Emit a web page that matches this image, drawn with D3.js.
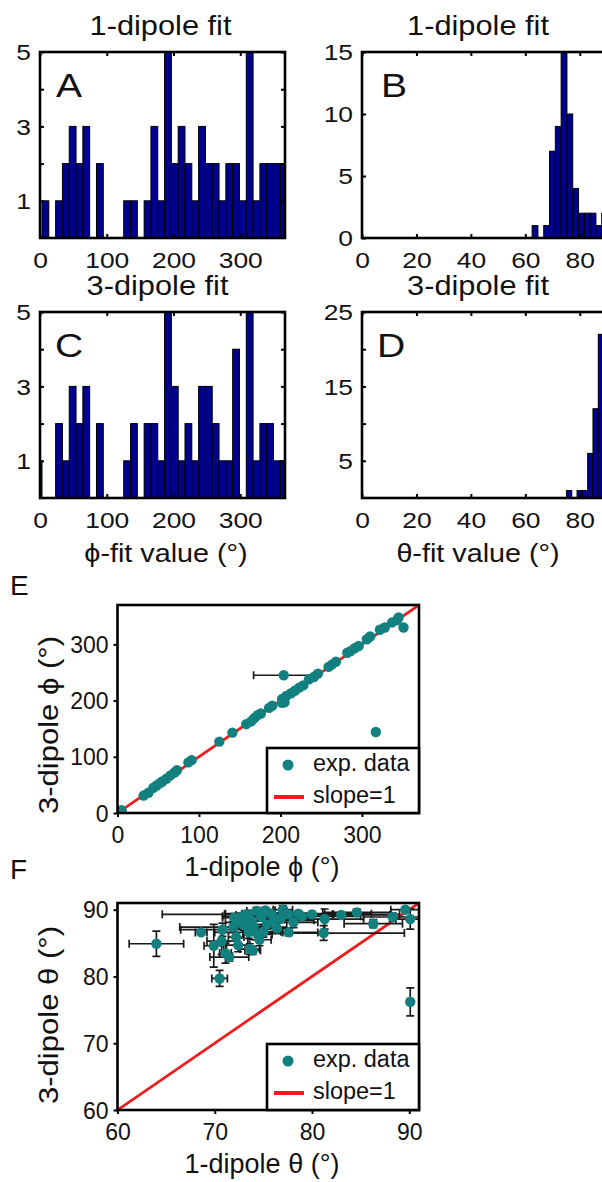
<!DOCTYPE html>
<html><head><meta charset="utf-8">
<script src="https://cdn.jsdelivr.net/npm/d3@7"></script>
<style>body{margin:0;background:#fff;overflow:hidden}</style>
</head><body>
<svg id="c" width="602" height="1182"></svg>
<script>
// ---------------- DATA ----------------
// Histogram A: 1-dipole phi fit (bin start, bin width in degrees, counts)
const histA_binStart = 3, histA_binWidth = 10.2;
const histA_counts = [1,0,1,2,3,2,3,0,2,0,0,0,1,1,0,1,3,1,5,2,3,2,1,3,2,2,1,2,2,1,5,1,2,2,2,2];
// Histogram C: 3-dipole phi fit
const histC_binStart = -7.2, histC_binWidth = 10.2;
const histC_counts = [1,0,0,2,1,3,2,3,0,2,0,0,0,1,2,0,2,2,1,5,3,1,2,1,3,3,2,1,1,4,0,5,1,2,2,1,1];
// Histogram B: 1-dipole theta fit
const histB_binStart = 62.5, histB_binWidth = 2.13;
const histB_counts = [1,0,1,7,9,15,10,4,2,2,2,1,2];
// Histogram D: 3-dipole theta fit
const histD_binStart = 75.1, histD_binWidth = 1.95;
const histD_counts = [1,0,1,1,6,12,22];

const phiTicks = [0,100,200,300];
const thetaTicks = [0,20,40,60,80];
const phiCountTicks = [1,2,3,4,5], phiCountLabels = [1,3,5];
const thetaB_countTicks = [0,5,10,15], thetaB_countLabels = [0,5,10,15];
const thetaD_countTicks = [5,10,15,20,25], thetaD_countLabels = [5,15,25];

// Panel E: phi, 1-dipole vs 3-dipole
const phi1 = [5,32,38,44,48,52,55,60,65,70,73,87,91,125,141,158,164,168,172,176,186,190,202,205,207,213,218,223,228,235,241,246,259,263,268,282,286,291,296,306,310,322,328,337,343,345,351,204,317,202];
const phi3 = [5,31,36,45,49,53,56,61,67,72,76,90,94,127,143,158,163,169,174,177,187,191,203,197,208,213,218,223,227,238,242,248,260,264,269,285,288,293,297,309,314,326,330,339,343,348,330,245,144,196];
const phi1Err = phi1.map((v,i)=> i===47 ? 37 : 0);
const eTicks = [0,100,200,300];

// Panel F: theta, 1-dipole vs 3-dipole with errors
const theta1    = [64.0,70.5,68.6,69.9,70.7,70.8,71.5,72.4,73.9,71.9,72.6,73.5,73.4,74.3,75.0,75.8,76.4,77.0,77.1,77.6,78.1,81.2,81.3,84.6,86.3,88.3,89.6,90.1,90.1,74.0,73.2,72.0,76.2,79.0,74.6,71.1,83.0,
                   72.8,73.8,74.8,75.4,76.0,76.8,75.2,73.0,77.6,78.6,74.4,72.2,73.6,80.0];
const theta3    = [84.9,79.7,86.6,84.6,85.3,87.0,82.9,84.7,83.9,87.4,88.1,86.6,89.3,89.8,86.7,89.4,87.2,90.0,89.5,86.6,88.1,86.5,88.6,89.6,87.9,88.9,90.0,88.6,76.2,87.5,89.2,88.8,88.4,89.0,85.5,83.5,89.2,
                   89.0,88.3,88.9,87.8,89.0,88.7,89.9,87.7,89.3,89.4,86.3,85.9,84.1,89.3];
const theta1Err = [2.8,0.8,0.6,1.0,1.5,4.3,2.0,1.2,0.8,5.5,1.5,3.5,8.8,1.0,1.8,3.0,1.5,1.0,1.5,3.0,2.5,8.3,4.0,3.5,3.0,3.0,1.5,1.5,0.3,1.0,1.0,1.2,4.0,6.0,1.2,0.6,5.0,
                   2.0,1.5,2.5,1.2,3.5,1.8,1.0,1.0,4.5,7.5,1.5,0.8,1.0,9.0];
const theta3Err = [1.9,1.2,0.3,3.2,2.0,1.0,0.6,1.0,0.6,0.8,0.8,0.9,0.6,0.5,0.8,0.6,0.8,0.6,0.8,0.5,0.8,1.1,1.5,0.5,0.6,0.6,0.4,1.5,2.1,1.0,0.5,0.6,0.6,0.5,0.9,1.5,0.4,
                   0.5,0.6,0.5,0.7,0.5,0.6,0.4,0.8,0.5,0.4,0.8,1.2,0.8,0.4];
const fTicks = [60,70,80,90];

// ---------------- DRAWING ----------------
const svg = d3.select('#c');
const FONT = "'Liberation Sans', Arial, Helvetica, sans-serif";
const BAR = '#00008f', TEAL = '#138080', RED = '#ee1c1c';
const TOPSX = 1.2;
const PHI = '\u03D5';

function txt(x, y, s, size, anchor, sx, rot) {
  let tr = `translate(${x},${y})`;
  if (rot) tr += ` rotate(${rot})`;
  if (sx && sx !== 1) tr += ` scale(${sx},1)`;
  return svg.append('text').attr('transform', tr).attr('text-anchor', anchor || 'start')
    .attr('font-family', FONT).attr('font-size', size).attr('fill', '#111').text(s);
}

let clipN = 0;
function clip(l, t, r, b) {
  const id = 'clip' + (clipN++);
  svg.append('clipPath').attr('id', id).append('rect')
    .attr('x', l).attr('y', t).attr('width', r - l).attr('height', b - t);
  return `url(#${id})`;
}

function styleTicks(g) {
  g.select('.domain').remove();
  g.selectAll('.tick line').attr('stroke', '#000').attr('stroke-width', 2);
  g.selectAll('text').attr('font-family', FONT).attr('fill', '#111');
}

function histPanel(p) {
  const xs = d3.scaleLinear().domain(p.xDomain).range([p.left, p.right]);
  const ys = d3.scaleLinear().domain(p.yDomain).range([p.bottom, p.top]);
  const bins = p.counts.map((c, i) => ({ c, x0: p.binStart + i * p.binWidth, x1: p.binStart + (i + 1) * p.binWidth }));
  svg.append('g').attr('clip-path', clip(p.left, p.top, p.right, p.bottom))
    .selectAll('rect').data(bins.filter(b => b.c > 0)).join('rect')
    .attr('x', b => xs(b.x0)).attr('width', b => xs(b.x1) - xs(b.x0))
    .attr('y', b => ys(b.c)).attr('height', b => ys(0) - ys(b.c))
    .attr('fill', BAR).attr('stroke', '#000').attr('stroke-width', 1);

  const gx = svg.append('g').attr('transform', `translate(0,${p.bottom})`)
    .call(d3.axisBottom(xs).tickValues(p.xTicks).tickSize(-4).tickFormat(d3.format('d')));
  styleTicks(gx);
  gx.selectAll('text').attr('y', 30).attr('dy', null).attr('font-size', 22)
    .attr('transform', `scale(${TOPSX},1)`);
  const gt = svg.append('g').attr('transform', `translate(0,${p.top})`)
    .call(d3.axisTop(xs).tickValues(p.xTicks).tickSize(-4).tickFormat(''));
  styleTicks(gt);
  const gy = svg.append('g').attr('transform', `translate(${p.left},0)`)
    .call(d3.axisLeft(ys).tickValues(p.yTicks).tickSize(-4)
      .tickFormat(d => p.yLabels.includes(d) ? String(d) : ''));
  styleTicks(gy);
  gy.selectAll('text').attr('x', -9 / TOPSX).attr('dy', '0.35em').attr('font-size', 22)
    .attr('transform', `scale(${TOPSX},1)`);
  const gr = svg.append('g').attr('transform', `translate(${p.right},0)`)
    .call(d3.axisRight(ys).tickValues(p.yTicks).tickSize(-4).tickFormat(''));
  styleTicks(gr);

  svg.append('rect').attr('x', p.left).attr('y', p.top).attr('width', p.right - p.left)
    .attr('height', p.bottom - p.top).attr('fill', 'none').attr('stroke', '#000').attr('stroke-width', 2.6);

  txt((p.left + Math.min(p.right, 602)) / 2 + p.titleDx, p.top - 17, p.title, 27, 'middle', 1.14);
  txt(p.left + p.letterDx, p.top + 45, p.letter, 34, 'start', 1.15);
}

histPanel({ left: 40, right: 285, top: 52, bottom: 238, xDomain: [0, 367], yDomain: [0, 5],
  binStart: histA_binStart, binWidth: histA_binWidth, counts: histA_counts,
  xTicks: phiTicks, yTicks: phiCountTicks, yLabels: phiCountLabels,
  title: '1-dipole fit', titleDx: -2, letter: 'A', letterDx: 16 });
histPanel({ left: 362, right: 607, top: 52, bottom: 238, xDomain: [0, 90], yDomain: [0, 15],
  binStart: histB_binStart, binWidth: histB_binWidth, counts: histB_counts,
  xTicks: thetaTicks, yTicks: thetaB_countTicks, yLabels: thetaB_countLabels,
  title: '1-dipole fit', titleDx: -4, letter: 'B', letterDx: 19 });
histPanel({ left: 40, right: 285, top: 312, bottom: 498, xDomain: [0, 367], yDomain: [0, 5],
  binStart: histC_binStart, binWidth: histC_binWidth, counts: histC_counts,
  xTicks: phiTicks, yTicks: phiCountTicks, yLabels: phiCountLabels,
  title: '3-dipole fit', titleDx: -5, letter: 'C', letterDx: 15 });
histPanel({ left: 362, right: 607, top: 312, bottom: 498, xDomain: [0, 90], yDomain: [0, 25],
  binStart: histD_binStart, binWidth: histD_binWidth, counts: histD_counts,
  xTicks: thetaTicks, yTicks: thetaD_countTicks, yLabels: thetaD_countLabels,
  title: '3-dipole fit', titleDx: -4, letter: 'D', letterDx: 15 });

txt(166, 562, PHI + '-fit value (\u00B0)', 25, 'middle', 1.15);
txt(478, 562, '\u03B8-fit value (\u00B0)', 25, 'middle', 1.15);

// -------- scatter panels --------
function scatterPanel(p) {
  const xs = d3.scaleLinear().domain(p.domain).range([p.left, p.right]);
  const ys = d3.scaleLinear().domain(p.domain).range([p.bottom, p.top]);
  const cp = clip(p.left, p.top, p.right, p.bottom);
  const g = svg.append('g').attr('clip-path', cp);
  // slope = 1 line
  g.append('line').attr('x1', xs(p.domain[0])).attr('y1', ys(p.domain[0]))
    .attr('x2', xs(p.domain[1])).attr('y2', ys(p.domain[1]))
    .attr('stroke', RED).attr('stroke-width', 2.8);
  const pts = p.x.map((v, i) => ({ x: v, y: p.y[i], ex: p.ex[i], ey: p.ey[i] }));
  const eb = g.append('g').attr('stroke', '#1a1a1a').attr('stroke-width', 1.7);
  pts.forEach(d => {
    if (d.ex > 0) {
      const x0 = xs(d.x - d.ex), x1 = xs(d.x + d.ex), yy = ys(d.y);
      eb.append('line').attr('x1', x0).attr('x2', x1).attr('y1', yy).attr('y2', yy);
      eb.append('line').attr('x1', x0).attr('x2', x0).attr('y1', yy - 4).attr('y2', yy + 4);
      eb.append('line').attr('x1', x1).attr('x2', x1).attr('y1', yy - 4).attr('y2', yy + 4);
    }
    if (d.ey > 0) {
      const y0 = ys(d.y - d.ey), y1 = ys(d.y + d.ey), xx = xs(d.x);
      eb.append('line').attr('x1', xx).attr('x2', xx).attr('y1', y0).attr('y2', y1);
      eb.append('line').attr('x1', xx - 4).attr('x2', xx + 4).attr('y1', y0).attr('y2', y0);
      eb.append('line').attr('x1', xx - 4).attr('x2', xx + 4).attr('y1', y1).attr('y2', y1);
    }
  });
  g.selectAll('circle').data(pts).join('circle')
    .attr('cx', d => xs(d.x)).attr('cy', d => ys(d.y)).attr('r', 5.2).attr('fill', TEAL);

  const gx = svg.append('g').attr('transform', `translate(0,${p.bottom})`)
    .call(d3.axisBottom(xs).tickValues(p.ticks).tickSize(4).tickFormat(d3.format('d')));
  styleTicks(gx);
  gx.selectAll('text').attr('y', 30).attr('dy', null).attr('font-size', 23);
  const gy = svg.append('g').attr('transform', `translate(${p.left},0)`)
    .call(d3.axisLeft(ys).tickValues(p.ticks).tickSize(4).tickFormat(d3.format('d')));
  styleTicks(gy);
  gy.selectAll('text').attr('x', -9).attr('dy', '0.35em').attr('font-size', 23);

  svg.append('rect').attr('x', p.left).attr('y', p.top).attr('width', p.right - p.left)
    .attr('height', p.bottom - p.top).attr('fill', 'none').attr('stroke', '#000').attr('stroke-width', 2.6);

  // legend
  const lx = 267, ly = p.legendTop, lw = p.right - 267, lh = p.bottom - p.legendTop;
  svg.append('rect').attr('x', lx).attr('y', ly).attr('width', lw).attr('height', lh)
    .attr('fill', '#fff').attr('stroke', '#000').attr('stroke-width', 2.6);
  svg.append('circle').attr('cx', lx + 21).attr('cy', ly + 17).attr('r', 5.5).attr('fill', TEAL);
  txt(lx + 46, ly + 23, 'exp. data', 23, 'start', 1.02);
  svg.append('line').attr('x1', lx + 7).attr('x2', lx + 37).attr('y1', ly + 49).attr('y2', ly + 49)
    .attr('stroke', RED).attr('stroke-width', 4);
  txt(lx + 46, ly + 55, 'slope=1', 23, 'start', 1.02);

  txt(262, p.xlabY, p.xlabel, 27, 'middle', 1);
  txt(58, p.ylabCY, p.ylabel, 27, 'middle', 1.15, -90);
  txt(10, p.letterY, p.letter, 28, 'start', 1);
}

scatterPanel({ left: 117.5, right: 419, top: 605, bottom: 813, domain: [0, 370],
  x: phi1, y: phi3, ex: phi1Err, ey: phi1.map(() => 0), ticks: eTicks,
  legendTop: 748, xlabel: '1-dipole ' + PHI + ' (\u00B0)', ylabel: '3-dipole ' + PHI + ' (\u00B0)',
  xlabY: 876, ylabCY: 725, letter: 'E', letterY: 595 });
scatterPanel({ left: 117.5, right: 419, top: 903, bottom: 1110, domain: [60, 91],
  x: theta1, y: theta3, ex: theta1Err, ey: theta3Err, ticks: fTicks,
  legendTop: 1044, xlabel: '1-dipole \u03B8 (\u00B0)', ylabel: '3-dipole \u03B8 (\u00B0)',
  xlabY: 1173, ylabCY: 1015, letter: 'F', letterY: 879 });
</script>
</body></html>
